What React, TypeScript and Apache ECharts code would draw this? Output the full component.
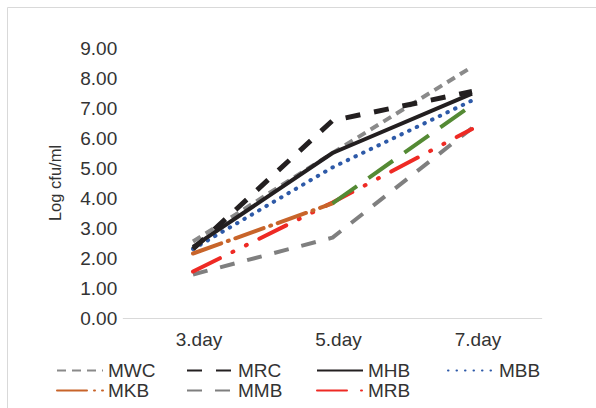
import React, { useEffect, useRef } from "react";
import * as echarts from "echarts";

const categories = ["3.day", "5.day", "7.day"];
const yTicks = { min: 0, max: 9, interval: 1 };

const MWC = [2.55, 5.5, 8.37];
const MRC = [2.3, 6.58, 7.55];
const MHB = [2.37, 5.5, 7.48];
const MBB = [2.3, 5.02, 7.25];
const MKB = [2.15, 3.82, null];
const MKB_GREEN = [null, 3.82, 7.1];
const MMB = [1.45, 2.68, 6.33];
const MRB = [1.55, 3.85, 6.3];

const FONT = "'Liberation Sans', Arial, sans-serif";
const TEXT = "#333333";

function mk(name: string, data: (number | null)[], color: string, width: number, type: any, cap: string = "butt") {
  return {
    name,
    type: "line",
    data,
    symbol: "none",
    connectNulls: false,
    lineStyle: { color, width, type, cap, join: "round" },
    itemStyle: { color },
    z: 2,
  };
}

export default function App() {
  const ref = useRef<HTMLDivElement>(null);
  useEffect(() => {
    const chart = echarts.init(ref.current!, undefined, { renderer: "svg" });
    const legendItem = (name: string, left: number, top: number) => ({
      data: [name],
      left,
      top,
      itemWidth: 46,
      itemHeight: 14,
      padding: 0,
      selectedMode: false,
      itemStyle: { opacity: 0 },
      textStyle: { fontSize: 19, fontFamily: FONT, color: TEXT },
    });
    chart.setOption({
      animation: false,
      backgroundColor: "#ffffff",
      grid: { left: 123.25, width: 418.5, top: 48, height: 270 },
      xAxis: {
        type: "category",
        data: categories,
        boundaryGap: true,
        axisLine: { lineStyle: { color: "#d9d9d9", width: 1 } },
        axisTick: { show: false },
        axisLabel: { fontSize: 19, fontFamily: FONT, color: TEXT, margin: 12, padding: [0, 0, 0, 12] },
      },
      yAxis: {
        type: "value",
        min: yTicks.min,
        max: yTicks.max,
        interval: yTicks.interval,
        name: "Log cfu/ml",
        nameLocation: "middle",
        nameGap: 60,
        nameTextStyle: { fontSize: 16.5, fontFamily: FONT, color: TEXT },
        axisLine: { show: false },
        axisTick: { show: false },
        splitLine: { show: false },
        axisLabel: {
          fontSize: 19,
          fontFamily: FONT,
          color: TEXT,
          margin: 6,
          formatter: (v: number) => v.toFixed(2),
        },
      },
      legend: [
        legendItem("MWC", 56, 361),
        legendItem("MRC", 186, 361),
        legendItem("MHB", 316, 361),
        legendItem("MBB", 447, 361),
        legendItem("MKB", 56, 381),
        legendItem("MMB", 186, 381),
        legendItem("MRB", 316, 381),
      ],
      graphic: [
        {
          type: "rect",
          shape: { x: 7.5, y: 7.5, width: 620, height: 430 },
          style: { fill: "none", stroke: "#d9d9d9", lineWidth: 1 },
          silent: true,
        },
      ],
      series: [
        mk("MMB", MMB, "#7f7f7f", 4, [15, 13]),
        mk("MRB", MRB, "#ee2a24", 4, [30, 14, 1, 14, 1, 14], "round"),
        mk("MKB", MKB, "#c8642a", 4, [30, 7, 1, 7], "round"),
        mk("MKB green", MKB_GREEN, "#548a34", 4, [30, 14]),
        mk("MWC", MWC, "#8a8a8a", 4, [9, 6]),
        mk("MBB", MBB, "#2e5aa8", 4, [0.5, 8], "round"),
        mk("MHB", MHB, "#231f20", 4, "solid"),
        mk("MRC", MRC, "#231f20", 5, [15, 14]),
      ],
    });
    return () => chart.dispose();
  }, []);
  return (
    <div
      ref={ref}
      style={{ position: "absolute", left: 0, top: 0, width: 596, height: 408 }}
    />
  );
}
